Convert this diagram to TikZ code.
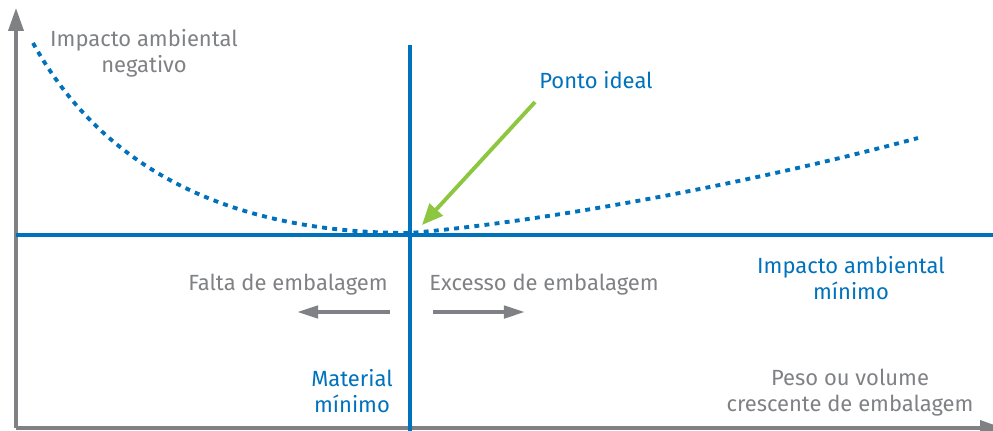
\documentclass[tikz,border=0pt]{standalone}
\usepackage{fontspec}
\setmainfont{Fira Sans}
\usetikzlibrary{arrows.meta}
\definecolor{lineblue}{RGB}{0,114,188}
\definecolor{axisgray}{RGB}{128,129,132}
\definecolor{arrowgreen}{RGB}{141,198,63}
\tikzset{
  axisline/.style={line width=2pt, draw=axisgray, -{Triangle[length=13pt,width=8.5pt]}},
  blueline/.style={line width=2pt, draw=lineblue},
  graytxt/.style={inner sep=0pt, align=center, text=axisgray, font=\fontsize{12.5}{14.8}\selectfont},
  bluetxt/.style={inner sep=0pt, align=center, text=lineblue, font=\fontsize{12.5}{14.8}\selectfont},
}
\begin{document}
\begin{tikzpicture}[x=0.02cm, y=-0.02cm]
\useasboundingbox (0,0) rectangle (993,430);
% axes
\coordinate (o) at (16,428);
\coordinate (ytop) at (16,8);
\coordinate (xend) at (1003,428);
\draw[axisline] (o) -- (ytop);
\draw[axisline] (o) -- (xend);

% blue lines
\coordinate (vtop) at (410,45);
\coordinate (vbot) at (410,432);
\coordinate (hl) at (16,235);
\coordinate (hr) at (995,235);
\draw[blueline] (vtop) -- (vbot);
\draw[blueline] (hl) -- (hr);

% dotted curve
\coordinate (cs) at (33,43);
\coordinate (cmin) at (410,233);
\coordinate (ce) at (918,138);
\draw[line width=2.2pt, lineblue, dash pattern=on 2.8pt off 3pt]
  (cs) .. controls (93,151) and (205,233) .. (cmin)
       .. controls (540,222) and (740,186) .. (ce);

% labels
\node[graytxt, anchor=north] (neg) at (144,29) {Impacto ambiental\\negativo};
\node[bluetxt, anchor=north] (ideal) at (596,71) {Ponto ideal};
\node[bluetxt, anchor=north] (minimo) at (851,256) {Impacto ambiental\\mínimo};
\node[graytxt, anchor=north] (falta) at (288,274) {Falta de embalagem};
\node[graytxt, anchor=north] (excesso) at (544,274) {Excesso de embalagem};
\node[bluetxt, anchor=north] (material) at (352,369) {Material\\mínimo};
\node[graytxt, anchor=north] (peso) at (850,369) {Peso ou volume\\crescente de embalagem};

% arrows
\coordinate (gs) at (535,102);
\coordinate (gt) at (422,225);
\draw[line width=2.2pt, arrowgreen, -{Triangle[length=12pt,width=10pt]}] (gs) -- (gt);
\coordinate (ls) at (390,312);
\coordinate (lt) at (297,312);
\coordinate (rs) at (433,312);
\coordinate (rt) at (525,312);
\draw[line width=2.2pt, axisgray, -{Triangle[length=12pt,width=7pt]}] (ls) -- (lt);
\draw[line width=2.2pt, axisgray, -{Triangle[length=12pt,width=7pt]}] (rs) -- (rt);
\end{tikzpicture}
\end{document}
